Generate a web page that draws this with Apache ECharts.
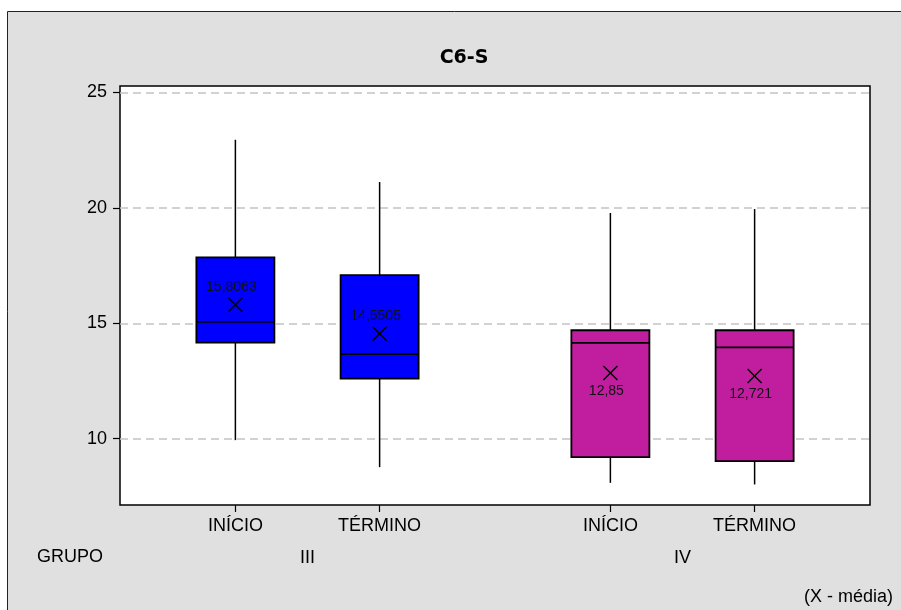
<!DOCTYPE html>
<html>
<head>
<meta charset="utf-8">
<title>C6-S</title>
<script src="https://cdn.jsdelivr.net/npm/echarts@6/dist/echarts.min.js"></script>
<style>
  html, body { margin: 0; padding: 0; background: #fff; }
  #chart { width: 901px; height: 610px; }
</style>
</head>
<body>
<div id="chart"></div>
<script>
// Box positions along the x axis (two periods per group, wider gap between groups)
const positions = [1, 2, 3.6, 4.6];
const periods = ['INÍCIO', 'TÉRMINO', 'INÍCIO', 'TÉRMINO'];
const groupOfBox = [0, 0, 1, 1];
const groups = ['III', 'IV'];

// Five-number summaries and means
const whiskerLow  = [9.94, 8.77, 8.09, 8.02];
const q1          = [14.16, 12.60, 9.20, 9.03];
const median      = [15.06, 13.67, 14.15, 13.96];
const q3          = [17.86, 17.09, 14.70, 14.70];
const whiskerHigh = [22.95, 21.12, 19.78, 19.95];
const means       = [15.8063, 14.5505, 12.85, 12.721];

const yTicks = [10, 15, 20, 25];
const groupColors = ['#0000FF', '#C01E9E'];

const FONT = '"Liberation Sans", Arial, sans-serif';

// Group label sits midway between its boxes
const groupCenters = groups.map((g, gi) => {
  const xs = positions.filter((p, i) => groupOfBox[i] === gi);
  return (Math.min(...xs) + Math.max(...xs)) / 2;
});

const boxData = positions.map((x, i) => [x, whiskerLow[i], q1[i], median[i], q3[i], whiskerHigh[i], means[i], groupOfBox[i]]);

function fmtComma(v) { return String(v).replace('.', ','); }

function renderBox(params, api) {
  const x = api.value(0);
  const g = api.value(7);
  const pLow = api.coord([x, api.value(1)]);
  const pQ1 = api.coord([x, api.value(2)]);
  const pMed = api.coord([x, api.value(3)]);
  const pQ3 = api.coord([x, api.value(4)]);
  const pHigh = api.coord([x, api.value(5)]);
  const pMean = api.coord([x, api.value(6)]);
  const half = api.size([0.541, 0])[0] / 2;
  const cx = pQ1[0];
  const line = { stroke: '#000', lineWidth: 1.5 };
  const c = 7;
  const labelDy = g === 0 ? -18 : 18;
  return {
    type: 'group',
    children: [
      { type: 'line', shape: { x1: cx, y1: pHigh[1], x2: cx, y2: pQ3[1] }, style: line },
      { type: 'line', shape: { x1: cx, y1: pQ1[1], x2: cx, y2: pLow[1] }, style: line },
      { type: 'rect', shape: { x: cx - half, y: pQ3[1], width: half * 2, height: pQ1[1] - pQ3[1] },
        style: { fill: groupColors[g], stroke: '#000', lineWidth: 1.8 } },
      { type: 'line', shape: { x1: cx - half, y1: pMed[1], x2: cx + half, y2: pMed[1] }, style: { stroke: '#000', lineWidth: 1.8 } },
      { type: 'line', shape: { x1: cx - c, y1: pMean[1] - c, x2: cx + c, y2: pMean[1] + c }, style: line },
      { type: 'line', shape: { x1: cx - c, y1: pMean[1] + c, x2: cx + c, y2: pMean[1] - c }, style: line },
      { type: 'text', x: cx - 4, y: pMean[1] + labelDy,
        style: { text: fmtComma(api.value(6)), fill: '#111', font: '14px ' + FONT, align: 'center', verticalAlign: 'middle' } }
    ]
  };
}

const chart = echarts.init(document.getElementById('chart'), null, { renderer: 'canvas' });

chart.setOption({
  backgroundColor: '#fff',
  animation: false,
  title: {
    text: 'C6-S',
    left: 459, top: 44, textAlign: 'center',
    textStyle: { fontFamily: '"DejaVu Sans", sans-serif', fontWeight: 'bold', fontSize: 19, color: '#000' }
  },
  graphic: [
    { type: 'rect', z: -100, silent: true, shape: { x: 7.5, y: 11.5, width: 900, height: 610 },
      style: { fill: '#e0e0e0', stroke: '#222', lineWidth: 1 } },
    { type: 'text', left: 37, top: 548, style: { text: 'GRUPO', font: '18px ' + FONT, fill: '#000' } },
    { type: 'text', right: 8, top: 588, style: { text: '(X - média)', font: '18px ' + FONT, fill: '#000' } }
  ],
  grid: {
    left: 120, right: 31, top: 86, bottom: 105,
    show: true, backgroundColor: '#fff', borderColor: '#000', borderWidth: 1.5,
    containLabel: false
  },
  xAxis: [
    {
      type: 'value', min: 0.2, max: 5.4,
      axisLine: { show: false },
      axisTick: { show: true, inside: false, length: 7, lineStyle: { color: '#000', width: 1.2 }, customValues: positions },
      axisLabel: {
        show: true, margin: 12, customValues: positions,
        formatter: v => periods[positions.indexOf(v)] || '',
        fontFamily: FONT, fontSize: 18, color: '#000'
      },
      splitLine: { show: false }
    },
    {
      type: 'value', min: 0.2, max: 5.4, position: 'bottom', offset: 36,
      axisLine: { show: false },
      axisTick: { show: false, customValues: groupCenters },
      axisLabel: {
        show: true, margin: 8, customValues: groupCenters,
        formatter: v => groups[groupCenters.indexOf(v)] || '',
        fontFamily: FONT, fontSize: 18, color: '#000'
      },
      splitLine: { show: false }
    }
  ],
  yAxis: {
    type: 'value', min: 7.13, max: 25.28,
    axisLine: { show: false },
    axisTick: { show: true, length: 7, lineStyle: { color: '#000', width: 1.2 }, customValues: yTicks },
    axisLabel: { margin: 13, customValues: yTicks, fontFamily: FONT, fontSize: 18, color: '#000' },
    splitLine: { show: true, lineStyle: { color: '#c4c4c4', width: 1.5, type: [8, 5] } }
  },
  series: [{
    type: 'custom',
    renderItem: renderBox,
    data: boxData,
    encode: { x: 0, y: [1, 2, 3, 4, 5] },
    clip: false,
    z: 5
  }]
});
</script>
</body>
</html>
